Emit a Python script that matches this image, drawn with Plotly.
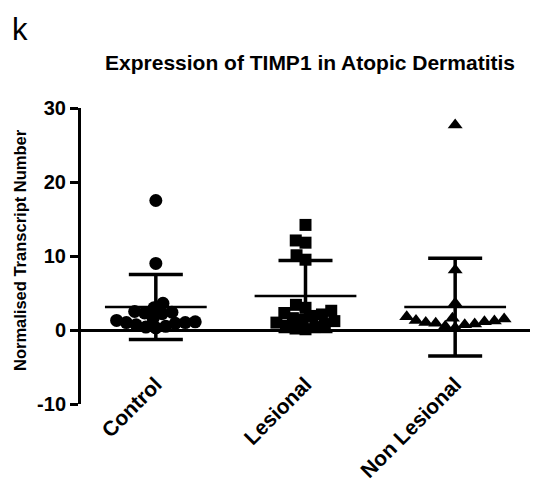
import math
import plotly.graph_objects as go

# Normalised TIMP1 transcript numbers per sample
categories = ["Control", "Lesional", "Non Lesional"]
control = [17.5, 9.0, 3.6, 3.0, 2.5, 2.4, 2.3, 2.2, 1.6, 1.3, 1.1, 1.0, 1.0, 0.9, 0.7, 0.5, 0.4, 0.3]
lesional = [14.2, 12.1, 11.8, 10.1, 9.5, 3.4, 3.0, 2.6, 2.3, 2.1, 1.9, 1.6, 1.4, 1.2, 1.0, 0.8, 0.6, 0.4, 0.2, 0.1]
non_lesional = [27.7, 8.1, 3.6, 1.8, 1.6, 1.5, 1.3, 1.2, 1.1, 1.0, 0.9, 0.8, 0.7, 0.5, 0.3]

# Group mean and standard deviation
group_mean = [3.1, 4.6, 3.1]
group_sd = [4.4, 4.8, 6.6]

y_ticks = [-10, 0, 10, 20, 30]

W, H = 551, 488
M_L, M_R, M_T, M_B = 81, 21, 108, 84
X_RANGE = [-0.5, 2.5]
Y_RANGE = [-10, 30]
px_x = (W - M_L - M_R) / (X_RANGE[1] - X_RANGE[0])
px_y = (H - M_T - M_B) / (Y_RANGE[1] - Y_RANGE[0])


def swarm(values, centre, diam=10.0):
    """Beeswarm layout: nudge each point sideways until it clears the others."""
    order = sorted(range(len(values)), key=lambda k: values[k])
    placed = []  # (x_px, y_px)
    xs = [0.0] * len(values)
    for k in order:
        yk = values[k] * px_y
        cands = {0.0}
        for (xp, yp) in placed:
            dy = abs(yk - yp)
            if dy < diam:
                dx = math.sqrt(diam * diam - dy * dy)
                cands.add(xp + dx)
                cands.add(xp - dx)
        for c in sorted(cands, key=lambda v: (abs(v), v)):
            if all((c - xp) ** 2 + (yk - yp) ** 2 >= diam * diam - 1e-6 for xp, yp in placed):
                xs[k] = c
                placed.append((c, yk))
                break
    return [centre + v / px_x for v in xs]


groups = [control, lesional, non_lesional]
symbols = ["circle", "square", "triangle-up"]

fig = go.Figure()

for i, (vals, sym) in enumerate(zip(groups, symbols)):
    fig.add_trace(go.Scatter(
        x=swarm(vals, i), y=vals, mode="markers",
        marker=dict(symbol=sym, size=13 if sym != "square" else 12, color="black",
                    line=dict(width=0)),
        showlegend=False, hoverinfo="y",
    ))

# Mean line and SD error bars
for i, (m, sd) in enumerate(zip(group_mean, group_sd)):
    fig.add_trace(go.Scatter(
        x=[i - 0.34, i + 0.34], y=[m, m], mode="lines",
        line=dict(color="black", width=2.5), showlegend=False, hoverinfo="skip",
    ))
    fig.add_trace(go.Scatter(
        x=[i], y=[m], mode="markers", marker=dict(size=1, color="black", opacity=0),
        error_y=dict(type="data", array=[sd], visible=True, color="black",
                     thickness=3.5, width=27),
        showlegend=False, hoverinfo="skip",
    ))

fig.add_annotation(
    text="k", xref="paper", yref="paper",
    x=(20 - M_L) / (W - M_L - M_R), y=(H - M_B - 30) / (H - M_T - M_B),
    showarrow=False, font=dict(family="Liberation Sans", size=31, color="black"),
    xanchor="center", yanchor="middle",
)
fig.add_annotation(
    text="Normalised Transcript Number", xref="paper", yref="paper",
    x=(20 - M_L) / (W - M_L - M_R), y=(H - M_B - 250) / (H - M_T - M_B),
    textangle=-90, showarrow=False,
    font=dict(family="Liberation Sans", size=16.5, color="black", weight="bold"),
    xanchor="center", yanchor="middle",
)

fig.update_layout(
    width=W, height=H,
    margin=dict(l=M_L, r=M_R, t=M_T, b=M_B, autoexpand=False),
    paper_bgcolor="white", plot_bgcolor="white",
    title=dict(
        text="<b>Expression of TIMP1 in Atopic Dermatitis</b>",
        x=310 / W, y=1 - 63 / H, xanchor="center", yanchor="middle",
        font=dict(family="Liberation Sans", size=21, color="black"),
    ),
    xaxis=dict(
        range=X_RANGE, tickmode="array", tickvals=[0, 1, 2], ticktext=categories,
        tickangle=-45, showgrid=False, zeroline=False, showline=False, ticks="",
        anchor="free", position=(H - M_B - 367) / (H - M_T - M_B), automargin=False,
        tickfont=dict(family="Liberation Sans", size=21, color="black", weight="bold"),
    ),
    yaxis=dict(
        range=Y_RANGE, tickmode="array", tickvals=y_ticks,
        ticktext=[str(v) for v in y_ticks], automargin=False,
        showgrid=False, zeroline=True, zerolinecolor="black", zerolinewidth=3,
        showline=True, linecolor="black", linewidth=3,
        ticks="outside", ticklen=8, tickwidth=3, tickcolor="black",
        tickfont=dict(family="Liberation Sans", size=20, color="black", weight="bold"),
    ),
)

fig.write_html("out.html")
